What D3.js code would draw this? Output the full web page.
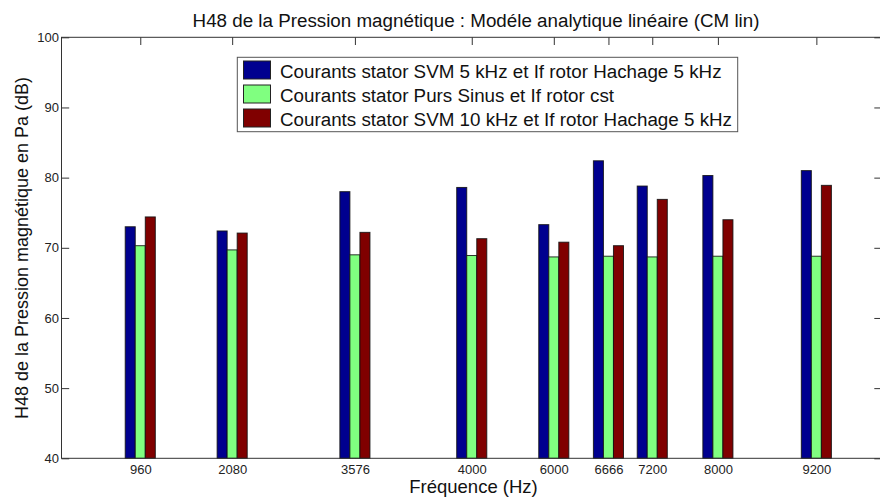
<!DOCTYPE html>
<html>
<head>
<meta charset="utf-8">
<script src="https://cdn.jsdelivr.net/npm/d3@7"></script>
<style>
  html, body { margin: 0; padding: 0; background: #ffffff; }
  svg { display: block; font-family: Arial, "Liberation Sans", Helvetica, sans-serif; }
</style>
</head>
<body>
<svg id="chart" width="880" height="497"></svg>
<script>
// ---- data ----
const categories = ["960", "2080", "3576", "4000", "6000", "6666", "7200", "8000", "9200"];
// x positions of the groups on the frequency axis (Hz)
const xValues = [960, 2080, 3576, 5000, 6000, 6666, 7200, 8000, 9200];
const seriesNames = [
  "Courants stator SVM 5 kHz et If rotor Hachage 5 kHz",
  "Courants stator Purs Sinus et If rotor cst",
  "Courants stator SVM 10 kHz et If rotor Hachage 5 kHz"
];
const svm5 = [73.0, 72.4, 78.0, 78.6, 73.3, 82.4, 78.8, 80.3, 81.0];
const sinus = [70.3, 69.7, 69.0, 68.9, 68.7, 68.8, 68.7, 68.8, 68.8];
const svm10 = [74.4, 72.1, 72.2, 71.3, 70.8, 70.3, 76.9, 74.0, 78.9];
const yTicks = [40, 50, 60, 70, 80, 90, 100];
const xDomain = [0, 10000];
const yDomain = [40, 100];
const titleText = "H48 de la Pression magnétique : Modéle analytique linéaire (CM lin)";
const xLabelText = "Fréquence (Hz)";
const yLabelText = "H48 de la Pression magnétique en Pa (dB)";

// ---- styles ----
const colors = ["#00008f", "#80ff80", "#800000"];
const axisColor = "#333333";

const svg = d3.select("#chart");
const pLeft = 61.5, pRight = 882, pTop = 37.3, pBottom = 458.3;

const x = d3.scaleLinear().domain(xDomain).range([pLeft, pRight]);
const y = d3.scaleLinear().domain(yDomain).range([pBottom, pTop]);

const series = [svm5, sinus, svm10];

// MATLAB-like grouped bar widths
let minSpacing = Infinity;
for (let i = 1; i < xValues.length; i++) minSpacing = Math.min(minSpacing, xValues[i] - xValues[i - 1]);
const groupWidth = Math.min(0.8, 3 / 4.5) * minSpacing * 1.03;
const barW = groupWidth / 3;

svg.append("rect").attr("x", pLeft).attr("y", pTop).attr("width", pRight - pLeft).attr("height", pBottom - pTop).attr("fill", "#fff");

const tickLen = 7.7;
const bottomAxis = d3.axisBottom(x).tickValues(xValues).tickSize(-tickLen).tickFormat((d, i) => categories[i]).tickPadding(6.3);
const gb = svg.append("g").attr("transform", `translate(0,${pBottom})`).call(bottomAxis);
gb.select(".domain").remove();
gb.selectAll("line").attr("stroke", axisColor);
gb.selectAll("text").attr("font-size", 13).attr("fill", "#222").attr("font-family", "Arial, 'Liberation Sans', sans-serif");

series.forEach((vals, s) => {
  svg.append("g").selectAll("rect").data(vals).join("rect")
    .attr("x", (d, i) => x(xValues[i] - groupWidth / 2 + s * barW))
    .attr("width", x(barW) - x(0))
    .attr("y", d => y(d))
    .attr("height", d => y(yDomain[0]) - y(d))
    .attr("fill", colors[s])
    .attr("stroke", "#111")
    .attr("stroke-width", 1)
    .attr("stroke-opacity", 0.85);
});

const topAxis = d3.axisTop(x).tickValues(xValues).tickSize(-tickLen).tickFormat("");
const gt = svg.append("g").attr("transform", `translate(0,${pTop})`).call(topAxis);
gt.select(".domain").remove();
gt.selectAll("line").attr("stroke", axisColor);

const leftAxis = d3.axisLeft(y).tickValues(yTicks).tickSize(-tickLen).tickPadding(2.5);
const gl = svg.append("g").attr("transform", `translate(${pLeft},0)`).call(leftAxis);
gl.select(".domain").remove();
gl.selectAll("line").attr("stroke", axisColor);
gl.selectAll("text").attr("font-size", 13).attr("fill", "#222").attr("font-family", "Arial, 'Liberation Sans', sans-serif");

const rightAxis = d3.axisRight(y).tickValues(yTicks).tickSize(-tickLen).tickFormat("");
const gr = svg.append("g").attr("transform", `translate(${pRight},0)`).call(rightAxis);
gr.select(".domain").remove();
gr.selectAll("line").attr("stroke", axisColor);

svg.append("rect").attr("x", pLeft).attr("y", pTop).attr("width", pRight - pLeft).attr("height", pBottom - pTop)
  .attr("fill", "none").attr("stroke", axisColor).attr("stroke-width", 1);

svg.append("text").attr("x", 476).attr("y", 27.3).attr("text-anchor", "middle")
  .attr("font-size", 18.8).attr("fill", "#111").text(titleText);

svg.append("text").attr("x", 473.5).attr("y", 493).attr("text-anchor", "middle")
  .attr("font-size", 18.5).attr("fill", "#111").text(xLabelText);
svg.append("text").attr("transform", `translate(28,248) rotate(-90)`).attr("text-anchor", "middle")
  .attr("font-size", 18).attr("fill", "#111").text(yLabelText);

const lg = svg.append("g");
lg.append("rect").attr("x", 237.3).attr("y", 57.3).attr("width", 500.4).attr("height", 74.4)
  .attr("fill", "#fff").attr("stroke", "#555").attr("stroke-width", 1);
seriesNames.forEach((name, i) => {
  const cy = 70 + i * 24;
  lg.append("rect").attr("x", 243.5).attr("y", cy - 9).attr("width", 27).attr("height", 18)
    .attr("fill", colors[i]).attr("stroke", "#222").attr("stroke-width", 1);
  lg.append("text").attr("x", 280).attr("y", cy + 8.3).attr("font-size", 18.8).attr("fill", "#111").text(name);
});
</script>
</body>
</html>
